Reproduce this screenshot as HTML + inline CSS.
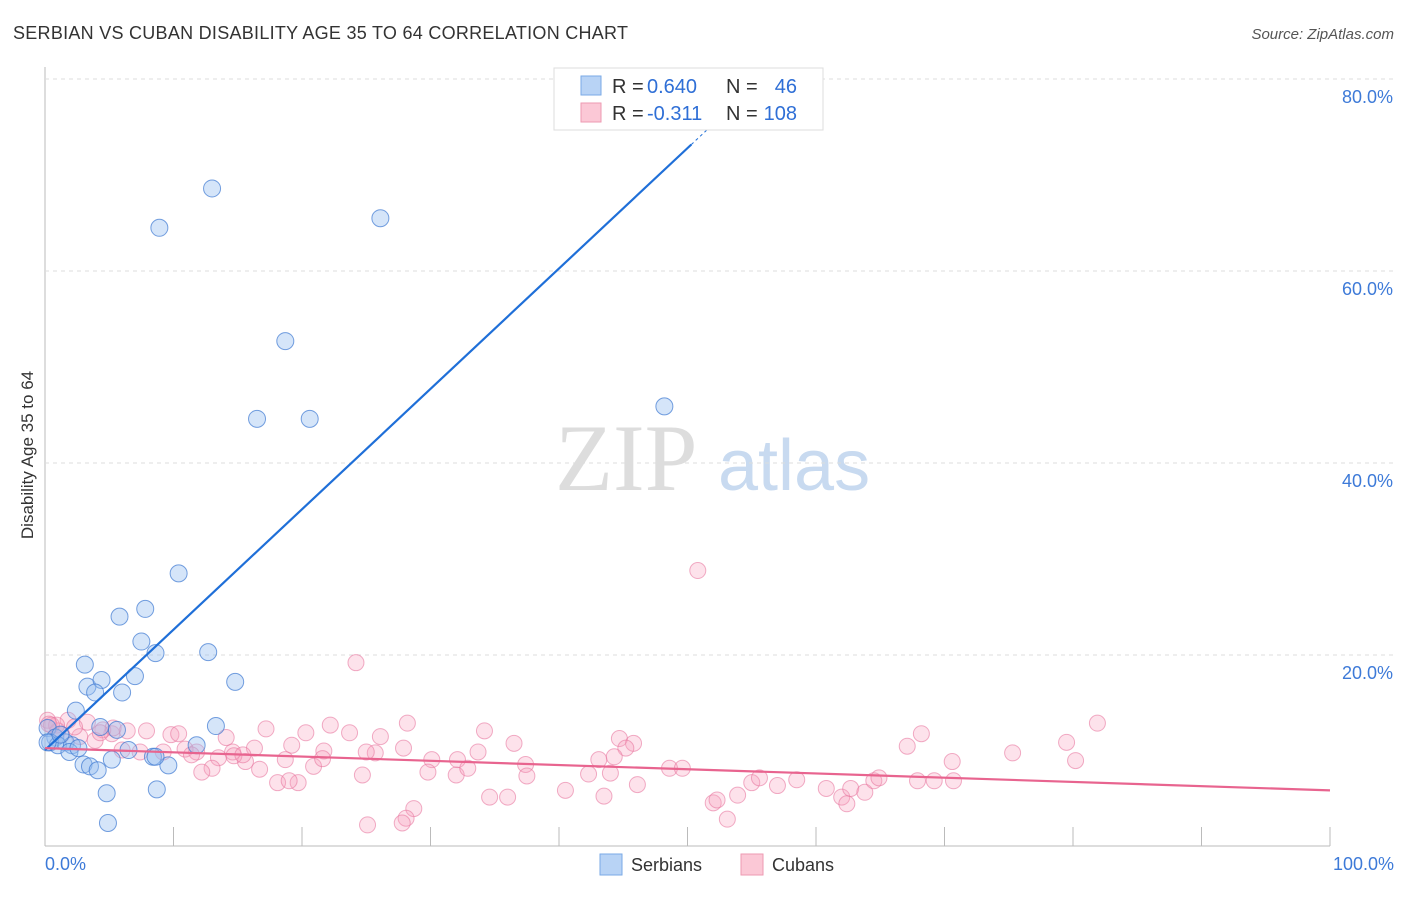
<!DOCTYPE html>
<html><head><meta charset="utf-8"><style>
body{margin:0;background:#fff;font-family:"Liberation Sans",sans-serif}
</style></head><body>
<svg width="1406" height="892" xmlns="http://www.w3.org/2000/svg" font-family="Liberation Sans, sans-serif">
<text x="13" y="39" font-size="18" fill="#333" textLength="615">SERBIAN VS CUBAN DISABILITY AGE 35 TO 64 CORRELATION CHART</text>
<text x="1394" y="39" font-size="15" fill="#555" text-anchor="end" font-style="italic">Source: ZipAtlas.com</text>
<g><text x="555" y="490" font-size="95" fill="#ddd" font-family="Liberation Serif, serif">ZIP</text><text x="718" y="490" font-size="72" fill="#c8daf0">atlas</text></g>
<g id="grid"></g>
<g id="marks"></g>
<text transform="translate(33,455) rotate(-90)" font-size="17" fill="#333" text-anchor="middle">Disability Age 35 to 64</text>
<g>
<rect x="554" y="68" width="269" height="62" fill="#fff" stroke="#ddd"/>
<rect x="581" y="76" width="20" height="19" fill="#b8d3f5" stroke="#7aa9e6"/>
<rect x="581" y="103" width="20" height="19" fill="#fbc8d6" stroke="#ee9ab2"/>
<text x="612" y="93" font-size="20" fill="#333">R =</text>
<text x="647" y="93" font-size="20" fill="#2f6fd6">0.640</text>
<text x="726" y="93" font-size="20" fill="#333">N =</text>
<text x="797" y="93" font-size="20" fill="#2f6fd6" text-anchor="end">46</text>
<text x="612" y="120" font-size="20" fill="#333">R =</text>
<text x="647" y="120" font-size="20" fill="#2f6fd6">-0.311</text>
<text x="726" y="120" font-size="20" fill="#333">N =</text>
<text x="797" y="120" font-size="20" fill="#2f6fd6" text-anchor="end">108</text>
</g>
<g>
<rect x="600" y="854" width="22" height="21" fill="#b8d3f5" stroke="#7aa9e6"/>
<text x="631" y="871" font-size="18" fill="#333">Serbians</text>
<rect x="741" y="854" width="22" height="21" fill="#fbc8d6" stroke="#ee9ab2"/>
<text x="772" y="871" font-size="18" fill="#333">Cubans</text>
</g>
</svg>
<script>
const blueX=[13.0,8.9,26.1,18.7,16.5,20.6,48.2,10.4,7.8,5.8,7.5,8.6,12.7,3.1,14.8,3.3,4.4,7.0,3.9,6.0,2.4,13.3,0.2,5.6,4.3,0.8,1.6,0.4,1.0,2.1,1.9,6.5,8.4,11.8,5.2,3.0,3.5,4.1,9.6,4.8,8.7,4.9,0.2,1.2,2.6,8.6];
const blueY=[68.6,64.5,65.5,52.7,44.6,44.6,45.9,28.5,24.8,24.0,21.4,20.2,20.3,19.0,17.2,16.7,17.4,17.8,16.1,16.1,14.2,12.6,12.4,12.2,12.5,11.4,10.9,10.9,10.6,10.6,9.9,10.1,9.4,10.6,9.1,8.6,8.4,8.0,8.5,5.6,6.0,2.5,10.9,11.7,10.3,9.4];
const pinkX=[50.8,24.2,81.9,68.2,67.1,79.5,75.3,80.2,70.6,34.2,36.5,28.2,22.2,17.2,20.3,26.1,23.7,44.7,45.8,45.2,43.1,32.1,33.7,37.4,44.3,30.1,27.9,25.7,25.0,21.7,19.2,16.3,14.6,13.5,15.6,13.0,12.2,16.7,18.1,19.7,19.0,20.9,21.6,24.7,29.8,32.0,32.9,37.5,42.3,44.0,46.1,48.6,49.6,40.5,43.5,34.6,36.0,28.7,28.1,25.1,27.8,52.0,52.3,53.1,53.9,55.0,55.6,57.0,58.5,60.8,62.0,62.4,62.7,63.8,64.5,64.9,67.9,69.2,70.7,9.8,10.4,7.9,6.4,5.2,4.5,3.3,1.8,1.0,0.2,2.7,6.0,7.4,9.2,10.9,11.8,14.1,14.7,3.9,2.3,1.3,5.3,0.9,4.3,11.4,15.4,18.7,0.5,0.3];
const pinkY=[28.8,19.2,12.9,11.8,10.5,10.9,9.8,9.0,8.9,12.1,10.8,12.9,12.7,12.3,11.9,11.5,11.9,11.3,10.8,10.3,9.1,9.1,9.9,8.6,9.4,9.1,10.3,9.8,9.9,10.0,10.6,10.3,9.9,9.3,8.9,8.2,7.8,8.1,6.7,6.7,6.9,8.4,9.2,7.5,7.8,7.5,8.2,7.4,7.6,7.7,6.5,8.2,8.2,5.9,5.3,5.2,5.2,4.0,3.0,2.3,2.5,4.6,4.9,2.9,5.4,6.7,7.2,6.4,7.0,6.1,5.2,4.5,6.1,5.7,6.9,7.2,6.9,6.9,6.9,11.7,11.8,12.1,12.1,11.8,12.2,13.0,13.2,12.1,13.2,11.5,10.1,9.9,9.9,10.2,9.9,11.4,9.5,11.1,12.5,11.7,12.4,12.7,11.9,9.6,9.6,9.1,12.7,12.8];
const blueTrend=[10.1,1.254];
const pinkTrend=[10.3,-0.044];
const yTicks=[20,40,60,80];
const xTickLabels=["0.0%","100.0%"];
const NS="http://www.w3.org/2000/svg";
const sx=v=>45+v*12.85, sy=v=>847-v*9.6;
const grid=document.getElementById('grid'), marks=document.getElementById('marks');
function mk(tag,attrs,parent){const e=document.createElementNS(NS,tag);for(const k in attrs)e.setAttribute(k,attrs[k]);parent.appendChild(e);return e;}
mk('line',{x1:45,y1:67,x2:45,y2:846,stroke:'#bbb'},grid);
mk('line',{x1:45,y1:846,x2:1330,y2:846,stroke:'#bbb'},grid);
yTicks.forEach(t=>{
 const l=mk('line',{x1:45,x2:1394,y1:sy(t),y2:sy(t),stroke:'#ddd','stroke-dasharray':'4,4'},grid);
 
 
 const tx=mk('text',{x:1393,y:sy(t)+24,'font-size':18,fill:'#3d7ad8','text-anchor':'end'},grid);
 tx.textContent=t.toFixed(1)+'%';
 
 
});
for(let i=1;i<=10;i++){const l=mk('line',{x1:45+i*128.5,x2:45+i*128.5,y1:827,y2:846,stroke:'#bbb'},grid);
 
 }
[[0,'start',45],[1,'end',1394]].forEach(([i,a,x])=>{const t=mk('text',{x:x,y:870,'font-size':18,fill:'#3d7ad8','text-anchor':a},grid);t.textContent=xTickLabels[i];
 
 });
pinkX.forEach((x,i)=>{const c=mk('circle',{cx:sx(x),cy:sy(pinkY[i]),r:8,fill:'rgba(247,160,188,0.3)',stroke:'rgba(232,120,160,0.6)','stroke-width':1},marks);
 
 });
blueX.forEach((x,i)=>{const c=mk('circle',{cx:sx(x),cy:sy(blueY[i]),r:8.5,fill:'rgba(150,190,240,0.4)',stroke:'rgba(60,120,210,0.7)','stroke-width':1},marks);
 
 });
let bl=mk('line',{x1:sx(0),y1:sy(blueTrend[0]),x2:sx(50.3),y2:sy(blueTrend[0]+blueTrend[1]*50.3),stroke:'#1f6fd8','stroke-width':2.2},marks);


let bd=mk('line',{x1:sx(50.3),y1:sy(blueTrend[0]+blueTrend[1]*50.3),x2:sx(52.5),y2:sy(blueTrend[0]+blueTrend[1]*52.5),stroke:'#1f6fd8','stroke-width':1,'stroke-dasharray':'3,3'},marks);


let pl=mk('line',{x1:sx(0),y1:sy(pinkTrend[0]),x2:sx(100),y2:sy(pinkTrend[0]+pinkTrend[1]*100),stroke:'#e8648f','stroke-width':2.2},marks);


</script>
</body></html>
